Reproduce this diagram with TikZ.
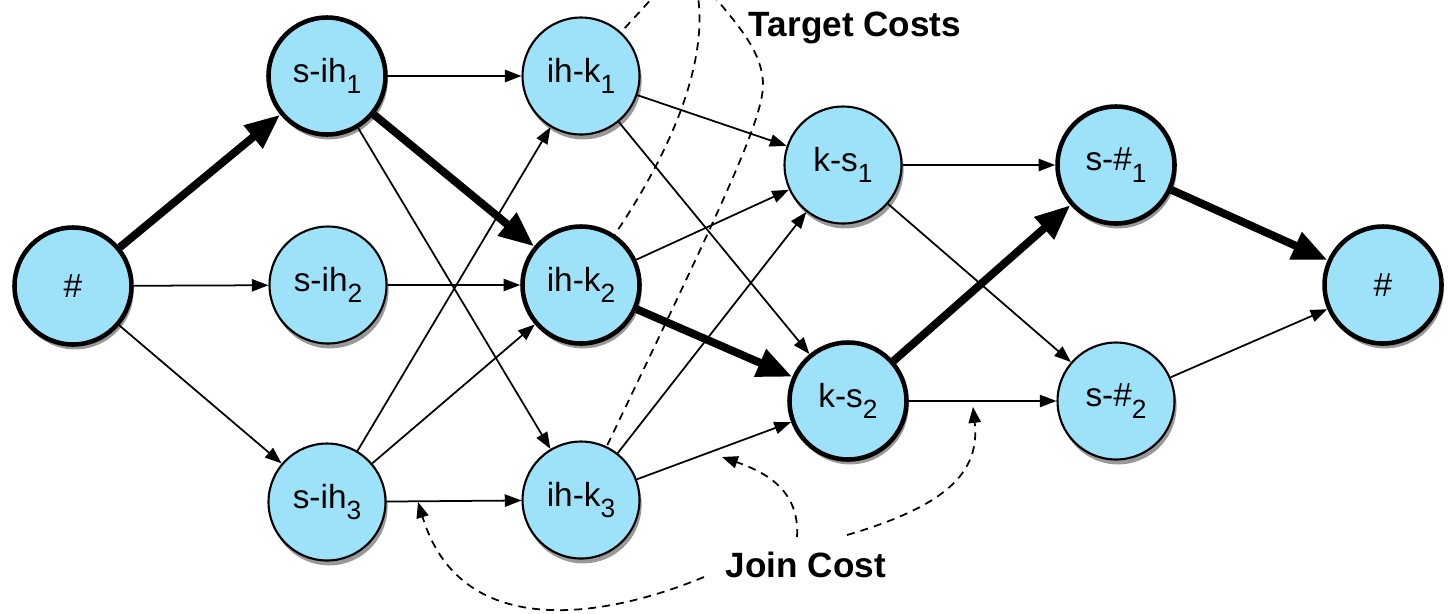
\documentclass[tikz,border=0pt]{standalone}
\usepackage{fontspec}
\setmainfont{Liberation Sans}
\usetikzlibrary{arrows.meta,shadows}

\definecolor{unitblue}{RGB}{158,226,249}
\newcommand{\nsub}[1]{\raisebox{-6.5pt}{\fontsize{15}{15}\selectfont #1}}

\begin{document}
\begin{tikzpicture}[
        x=0.02cm, y=-0.02cm,
        unit/.style={
            circle,
            draw=black,
            fill=unitblue,
            line width=1.2pt,
            minimum size=2.34cm,
            inner sep=0pt,
            font=\fontsize{19}{21}\selectfont,
            drop shadow={shadow xshift=1.2pt, shadow yshift=-2.8pt, fill=black!80}
        },
        best/.style={unit, line width=2.6pt},
        link/.style={line width=1pt, -{Triangle[length=9.5pt,width=7pt]}},
        bestlink/.style={line width=4.5pt, -{Triangle[length=20pt,width=16pt]}},
        cost/.style={line width=1pt, dash pattern=on 4.5pt off 3.5pt},
        costlabel/.style={font=\fontsize{20}{24}\selectfont\bfseries, inner sep=0pt}
    ]

    \useasboundingbox (0,0) rectangle (1452,613);

    % Unidades
    \node[best] (st)   at (73,286)   {\#};
    \node[best] (sih1) at (327,76)   {s-ih\nsub{1}};
    \node[unit] (sih2) at (328,285)  {s-ih\nsub{2}};
    \node[unit] (sih3) at (327,502)  {s-ih\nsub{3}};
    \node[unit] (ihk1) at (581,76)   {ih-k\nsub{1}};
    \node[best] (ihk2) at (581,285)  {ih-k\nsub{2}};
    \node[unit] (ihk3) at (581,500)  {ih-k\nsub{3}};
    \node[unit] (ks1)  at (843,165)  {k-s\nsub{1}};
    \node[best] (ks2)  at (848,401)  {k-s\nsub{2}};
    \node[best] (sh1)  at (1116,165) {s-\#\nsub{1}};
    \node[unit] (sh2)  at (1116,401) {s-\#\nsub{2}};
    \node[best] (en)   at (1383,285) {\#};

    % Transiciones
    \draw[bestlink] (st) -- (sih1);
    \draw[link] (st) -- (sih2);
    \draw[link] (st) -- (sih3);
    \draw[link] (sih1) -- (ihk1);
    \draw[bestlink] (sih1) -- (ihk2);
    \draw[link] (sih1) -- (ihk3);
    \draw[link] (sih2) -- (ihk2);
    \draw[link] (sih3) -- (ihk1);
    \draw[link] (sih3) -- (ihk2);
    \draw[link] (sih3) -- (ihk3);
    \draw[link] (ihk1) -- (ks1);
    \draw[link] (ihk1) -- (ks2);
    \draw[link] (ihk2) -- (ks1);
    \draw[bestlink] (ihk2) -- (ks2);
    \draw[link] (ihk3) -- (ks1);
    \draw[link] (ihk3) -- (ks2);
    \draw[link] (ks1) -- (sh1);
    \draw[link] (ks1) -- (sh2);
    \draw[bestlink] (ks2) -- (sh1);
    \draw[link] (ks2) -- (sh2);
    \draw[bestlink] (sh1) -- (en);
    \draw[link] (sh2) -- (en);

    % Costes de objetivo
    \node[costlabel] (target) at (855,28) {Target Costs};
    \coordinate (tgt) at (687,-40);
    \begin{scope}
        \clip (0,0) rectangle (1452,613);
        \draw[cost] (tgt) -- (ihk1);
        \draw[cost] (tgt) .. controls (712,10) and (705,100) .. (ihk2);
        \draw[cost] (tgt) .. controls (715,5) and (763,40) .. (763,85)
            .. controls (763,120) and (720,210) .. (ihk3);
    \end{scope}

    % Costes de concatenacion
    \node[costlabel] (join) at (806,565) {Join Cost};
    \coordinate (ja) at (704,577);
    \coordinate (jb) at (797,537);
    \coordinate (jc) at (847,535);
    \coordinate (ta) at (418,502);
    \coordinate (tb) at (722,457);
    \coordinate (tc) at (973,407);
    \draw[cost, -{Triangle[length=9pt,width=7pt]}]
        (ja) .. controls (600,620) and (460,640) .. (ta);
    \draw[cost, -{Triangle[length=9pt,width=7pt]}]
        (jb) .. controls (800,490) and (765,472) .. (tb);
    \draw[cost, -{Triangle[length=9pt,width=7pt]}]
        (jc) .. controls (950,505) and (980,470) .. (tc);

\end{tikzpicture}
\end{document}
